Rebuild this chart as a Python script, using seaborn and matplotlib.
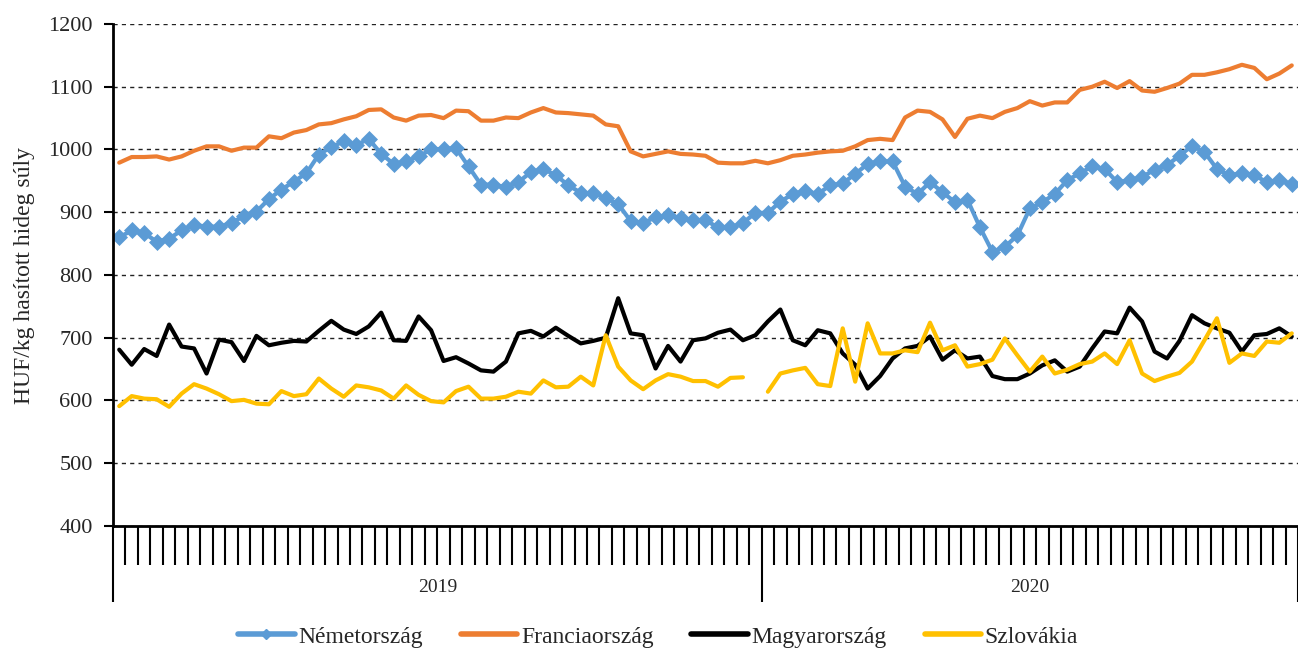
import numpy as np
import pandas as pd
import seaborn as sns
import matplotlib.pyplot as plt
from matplotlib.lines import Line2D

# Heti árak, HUF/kg hasított hideg súly (2019: 52 hét, 2020: 43 hét)
evek = ['2019', '2020']
het_szam = [52, 43]

nemetorszag = [860, 871, 867, 853, 858, 871, 880, 877, 877, 883, 894, 901, 921, 936, 949, 962, 992, 1004,
               1013, 1007, 1017, 993, 977, 981, 989, 1000, 1001,
               1002, 973, 944, 944, 940, 948, 964, 969, 959, 943, 931, 930, 923, 913, 886, 883, 892, 895,
               891, 887, 887, 876, 876, 883, 899, 899, 917,
               929, 934, 929, 943, 946, 961, 977, 981, 981, 941, 929, 948, 932, 916, 920, 876, 837, 845,
               863, 906, 916, 929, 951, 962, 973, 969, 948, 951, 956, 968, 975, 990, 1006, 996, 969, 959,
               962, 959, 948, 951, 945]
franciaorszag = [979, 988, 988, 989, 984, 989, 998, 1005, 1005, 998, 1003, 1003, 1021, 1018, 1027, 1031,
                 1040, 1042, 1048, 1053, 1063, 1064, 1051, 1046, 1054, 1055, 1050,
                 1062, 1061, 1046, 1046, 1051, 1050, 1059, 1066, 1059, 1058, 1056, 1054, 1040, 1037, 997,
                 989, 993, 997, 993, 992, 990, 979, 978, 978, 982, 978, 983,
                 990, 992, 995, 997, 998, 1005, 1015, 1017, 1015, 1051, 1062, 1060, 1048, 1020, 1049, 1054,
                 1050, 1060, 1066, 1077, 1070, 1075, 1075, 1095, 1100, 1108, 1098, 1109, 1094, 1092, 1098,
                 1105, 1119, 1119, 1123, 1128, 1135, 1130, 1112, 1121, 1134]
magyarorszag = [681, 657, 682, 671, 721, 686, 683, 643, 697, 693, 663, 703, 688, 692, 695, 694, 711, 727,
                713, 706, 718, 740, 696, 695, 734, 712, 663,
                669, 659, 648, 646, 662, 707, 711, 702, 716, 703, 691, 695, 700, 763, 707, 704, 651, 687,
                662, 696, 699, 708, 713, 696, 704, 726, 745,
                696, 688, 712, 707, 675, 657, 619, 639, 667, 683, 687, 702, 665, 680, 667, 670, 639, 634,
                634, 643, 656, 664, 646, 654, 683, 710, 707, 748, 726, 678, 667, 695, 736, 723, 715, 708,
                678, 704, 706, 715, 702]
szlovakia = [591, 607, 603, 602, 590, 611, 626, 619, 610, 599, 601, 595, 594, 615, 607, 610, 635, 619,
             606, 624, 621, 616, 603, 624, 609, 599, 597,
             615, 622, 603, 603, 606, 614, 611, 632, 621, 622, 638, 624, 704, 654, 632, 618, 632, 642,
             638, 631, 631, 622, 636, 637, np.nan, 614, 643,
             648, 652, 626, 623, 715, 630, 723, 675, 675, 680, 677, 724, 680, 688, 654, 658, 665, 699,
             672, 646, 670, 643, 649, 658, 662, 675, 658, 696, 643, 631, 638, 644, 662, 696, 731, 660,
             675, 671, 694, 692, 707]

sorozatok = [
    ('Németország', nemetorszag, '#5B9BD5'),
    ('Franciaország', franciaorszag, '#ED7D31'),
    ('Magyarország', magyarorszag, '#000000'),
    ('Szlovákia', szlovakia, '#FFC000'),
]

sns.set_style('white')
plt.rcParams['font.family'] = ['Liberation Serif', 'DejaVu Serif']

n = sum(het_szam)
het = np.arange(n)

fig = plt.figure(figsize=(12.98, 6.49), dpi=100)
ax = fig.add_axes([113 / 1298, 1 - 526 / 649, 1 - 113 / 1298, 502 / 649])

for nev, ertek, szin in sorozatok:
    ertek = np.array(ertek, dtype=float)
    # a hiányzó hét megszakítja a vonalat
    df = pd.DataFrame({'het': het, 'ar': ertek, 'szakasz': np.isnan(ertek).cumsum()})
    kws = dict(color=szin, lw=3, ax=ax, legend=False, units='szakasz', estimator=None, sort=False)
    if nev == 'Németország':
        kws.update(marker='D', markersize=8, markeredgecolor=szin, markeredgewidth=0.5)
    sns.lineplot(data=df, x='het', y='ar', **kws)

# y tengely
ax.set_ylim(400, 1200)
ax.set_yticks(np.arange(400, 1201, 100))
ax.yaxis.grid(True, linestyle=(0, (3, 3)), color='#222222', linewidth=1.0)
ax.xaxis.grid(False)
ax.tick_params(axis='y', length=6.5, width=1.5, pad=8, labelsize=16, color='black', left=True)
ax.set_ylabel('HUF/kg hasított hideg súly', fontsize=17)
ax.yaxis.set_label_coords(-0.0658, 0.5)

# x tengely: heti osztások, évhatárok hosszabb vonallal
hatarok = np.concatenate([[0], np.cumsum(het_szam)]) - 0.5
ax.set_xlim(-0.5, n - 0.5)
ax.set_xticks(hatarok)
ax.set_xticks(np.arange(-0.5, n, 1), minor=True)
ax.set_xticklabels([])
ax.set_xlabel('')
ax.tick_params(axis='x', which='major', length=55, width=1.5, color='black', bottom=True)
ax.tick_params(axis='x', which='minor', length=28, width=1.5, color='black', bottom=True)
for ev, a, b in zip(evek, hatarok[:-1], hatarok[1:]):
    ax.text((a + b) / 2, -0.1235, ev, transform=ax.get_xaxis_transform(),
            ha='center', va='center', fontsize=14)

for s in ['top', 'right']:
    ax.spines[s].set_visible(False)
for s in ['left', 'bottom']:
    ax.spines[s].set_color('black')
    ax.spines[s].set_linewidth(2)

kezelok = []
for nev, ertek, szin in sorozatok:
    if nev == 'Németország':
        kezelok.append(Line2D([], [], color=szin, lw=4, marker='D', markersize=5, label=nev))
    else:
        kezelok.append(Line2D([], [], color=szin, lw=4, label=nev))
fig.legend(handles=kezelok, loc='center', bbox_to_anchor=(0.507, 0.0185), ncol=4, frameon=False,
           fontsize=17, handlelength=2.4, handletextpad=0.15, columnspacing=1.6)

fig.savefig('out.png', dpi=100)
